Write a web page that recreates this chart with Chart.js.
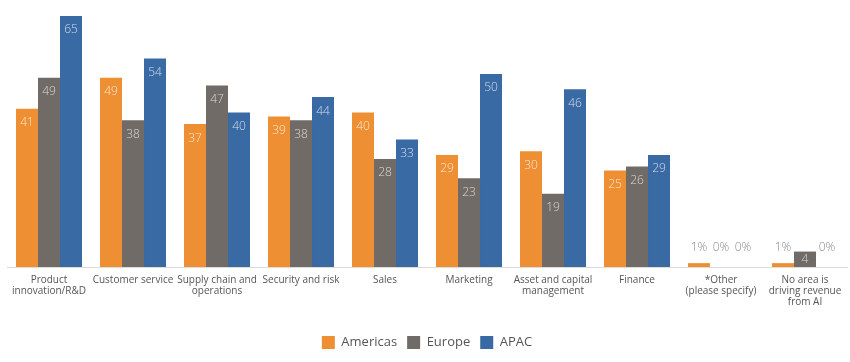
<!DOCTYPE html>
<html><head><meta charset="utf-8">
<script src="https://cdn.jsdelivr.net/npm/chart.js@4.4.1/dist/chart.umd.min.js"></script>
<style>html,body{margin:0;padding:0;background:#fff}#wrap{width:850px;height:362px;position:relative}</style>
</head><body><div id="wrap"><canvas id="c"></canvas></div>
<script>
const categories = [["Product","innovation/R&D"],"Customer service",["Supply chain and","operations"],"Security and risk","Sales","Marketing",["Asset and capital","management"],"Finance",["*Other","(please specify)"],["No area is","driving revenue","from AI"]];
const americas = [41,49,37,39,40,29,30,25,1,1];
const europe   = [49,38,47,38,28,23,19,26,0,4];
const apac     = [65,54,40,44,33,50,46,29,0,0];
const seriesNames = ["Americas","Europe","APAC"];
const colors = ["#EF8F34","#716B67","#3A6AA3"];
const labelColors = ["rgba(255,240,225,0.9)","rgba(225,222,220,0.9)","rgba(220,230,245,0.9)"];

const FONT = "'Open Sans', Lato, sans-serif";

const valueLabels = {
  id:'valueLabels',
  afterDatasetsDraw(chart){
    const ctx = chart.ctx;
    const base = chart.scales.y.getPixelForValue(0);
    ctx.save();
    ctx.font = "300 12px " + FONT;
    ctx.textAlign = 'center';
    ctx.textBaseline = 'middle';
    chart.data.datasets.forEach((ds, di) => {
      const meta = chart.getDatasetMeta(di);
      meta.data.forEach((bar, i) => {
        const v = ds.data[i];
        if (v >= 10) {
          ctx.fillStyle = labelColors[di];
          ctx.fillText(String(v), bar.x, bar.y + 14);
        } else if (v >= 3) {
          ctx.fillStyle = labelColors[di];
          ctx.fillText(String(v), bar.x, (bar.y + base)/2);
        } else {
          ctx.fillStyle = "#8a8a8a";
          ctx.fillText(v + "%", bar.x, base - 19);
        }
      });
    });
    ctx.restore();
  }
};

new Chart(document.getElementById('c'), {
  type:'bar',
  data:{
    labels: categories,
    datasets:[
      {label:seriesNames[0], data:americas, backgroundColor:colors[0]},
      {label:seriesNames[1], data:europe, backgroundColor:colors[1]},
      {label:seriesNames[2], data:apac, backgroundColor:colors[2]}
    ]
  },
  options:{
    responsive:true, maintainAspectRatio:false, animation:false,
    layout:{padding:{top:16,left:7,right:3,bottom:3}},
    datasets:{bar:{barPercentage:1, categoryPercentage:0.786}},
    scales:{
      y:{display:false, min:0, max:65},
      x:{
        grid:{display:false},
        border:{display:true,color:"#dcdcdc",width:1},
        ticks:{color:"#555",font:{family:FONT,size:10,lineHeight:1.1},maxRotation:0,autoSkip:false,padding:0},
        afterFit(s){ s.height += 18; }
      }
    },
    plugins:{
      legend:{position:'bottom',labels:{color:"#555",font:{family:FONT,size:13},boxWidth:13,boxHeight:13,padding:10}},
      tooltip:{enabled:false}
    }
  },
  plugins:[valueLabels]
});
</script></body></html>
